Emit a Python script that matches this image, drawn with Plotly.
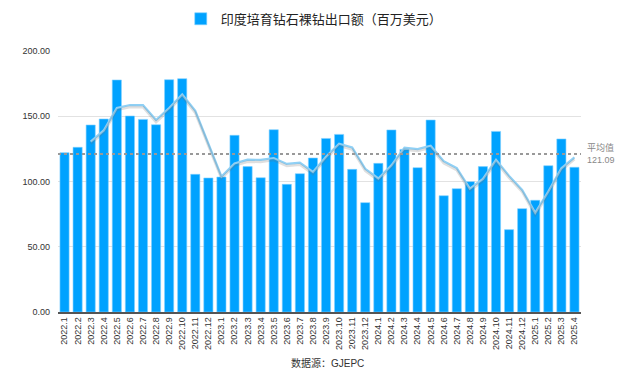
import plotly.graph_objects as go

months = ["2022.1","2022.2","2022.3","2022.4","2022.5","2022.6","2022.7","2022.8","2022.9","2022.10",
          "2022.11","2022.12","2023.1","2023.2","2023.3","2023.4","2023.5","2023.6","2023.7","2023.8",
          "2023.9","2023.10","2023.11","2023.12","2024.1","2024.2","2024.3","2024.4","2024.5","2024.6",
          "2024.7","2024.8","2024.9","2024.10","2024.11","2024.12","2025.1","2025.2","2025.3","2025.4"]

exports = [122.1,126.2,143.3,147.9,177.8,150.2,147.6,143.5,178.0,178.8,
           105.5,102.7,103.4,135.4,111.4,102.9,139.7,97.8,106.0,118.0,
           133.0,136.1,109.3,83.8,113.9,139.5,124.6,110.6,147.1,89.1,
           94.5,99.9,111.4,138.4,63.1,79.2,85.6,112.1,132.6,110.9]

moving_avg = [None,None,130.53,139.13,156.33,158.63,158.53,147.10,156.37,166.77,
              154.10,129.00,103.87,113.83,116.73,116.57,118.00,113.47,114.50,107.27,
              119.00,129.03,126.13,109.73,102.33,112.40,126.00,124.90,127.43,115.60,
              110.23,94.50,101.93,116.57,104.30,93.57,75.97,92.30,110.10,118.53]

average_value = 121.09

series_name = "印度培育钻石裸钻出口额（百万美元）"
source_text = "数据源：GJEPC"
avg_label = "平均值"

font_family = "Liberation Sans, Arial, Noto Sans CJK SC, sans-serif"

fig = go.Figure()
fig.add_trace(go.Bar(
    x=months, y=exports, name=series_name,
    marker=dict(color="#00a2ff", line=dict(color="#7fd0ff", width=0.6)),
    showlegend=True,
))
# soft shadow of the moving-average line
fig.add_trace(go.Scatter(
    x=months, y=moving_avg, mode="lines", yaxis="y2",
    line=dict(color="rgba(110,110,110,0.22)", width=2.5),
    showlegend=False, hoverinfo="skip",
))
fig.add_trace(go.Scatter(
    x=months, y=moving_avg, mode="lines",
    line=dict(color="#8fd0f5", width=2.2),
    showlegend=False,
))

fig.add_shape(type="line", xref="x domain", yref="y", x0=0, x1=1,
              y0=average_value, y1=average_value,
              line=dict(color="#999999", width=2, dash="dot"))
fig.add_annotation(xref="paper", yref="y", x=1.0, y=average_value, xshift=4,
                   text=f"{avg_label}<br>{average_value:.2f}", showarrow=False,
                   xanchor="left", yanchor="middle", align="left",
                   font=dict(size=9, color="#888888", family=font_family))
fig.add_annotation(xref="paper", yref="paper", x=0.515, y=-0.165,
                   text=source_text, showarrow=False, xanchor="center", yanchor="top",
                   font=dict(size=10, color="#333333", family=font_family))

fig.update_layout(
    width=640, height=383,
    margin=dict(l=58, r=59, t=51, b=71),
    paper_bgcolor="white", plot_bgcolor="white",
    font=dict(family=font_family, color="#333333"),
    bargap=0.3,
    legend=dict(orientation="h", x=0.49, xanchor="center", y=0.99, yref="container",
                yanchor="top", font=dict(size=13, color="#222222"),
                itemwidth=30),
    xaxis=dict(type="category", tickangle=-90, tickfont=dict(size=9, color="#333333"),
               showgrid=False, showline=True, linecolor="#555555", linewidth=1.5,
               ticks="", range=[-0.5, len(months) - 0.5]),
    yaxis=dict(range=[0, 200], dtick=50, tickformat=".2f",
               tickfont=dict(size=9, color="#333333"), ticklabelstandoff=7,
               gridcolor="#e2e2e2", gridwidth=1, zeroline=False, showline=False, ticks=""),
    yaxis2=dict(range=[1.6, 201.6], overlaying="y", visible=False),
)

fig.write_html("out.html", config={"displayModeBar": False},
               post_script="document.body.style.margin='0';")
